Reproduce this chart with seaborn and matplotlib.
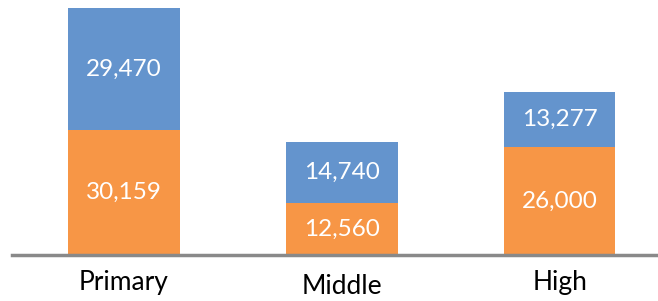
import pandas as pd
import matplotlib
matplotlib.use("Agg")
import matplotlib.pyplot as plt
import seaborn as sns

# data
levels = ["Primary", "Middle", "High"]
bottom_vals = [30159, 12560, 26000]
top_vals = [29470, 14740, 13277]

ORANGE = "#F79646"
BLUE = "#6494CD"

df = pd.DataFrame({"level": levels, "bottom": bottom_vals, "top": top_vals})
df["total"] = df["bottom"] + df["top"]

sns.set_theme(style="white")
plt.rcParams["font.family"] = ["Lato", "DejaVu Sans"]

fig = plt.figure(figsize=(6.58, 3.01), dpi=100)
ax = fig.add_axes([12 / 658, 1 - 255 / 301, 646 / 658, 255 / 301])

sns.barplot(data=df, x="level", y="total", color=BLUE, width=0.51,
            saturation=1, linewidth=0, ax=ax)
sns.barplot(data=df, x="level", y="bottom", color=ORANGE, width=0.51,
            saturation=1, linewidth=0, ax=ax)

for i, row in df.iterrows():
    ax.text(i, row["bottom"] / 2, f"{row['bottom']:,}", ha="center",
            va="center", color="white", fontsize=17.5)
    ax.text(i, row["bottom"] + row["top"] / 2, f"{row['top']:,}",
            ha="center", va="center", color="white", fontsize=17.5)

ax.set_xlim(-0.514, 2.45)
ax.set_ylim(0, 61560)
ax.set_xlabel("")
ax.set_ylabel("")
ax.set_yticks([])
for s in ["top", "right", "left"]:
    ax.spines[s].set_visible(False)
ax.spines["bottom"].set_color("#898989")
ax.spines["bottom"].set_linewidth(2.5)
ax.tick_params(axis="x", length=0, labelsize=19, colors="black", pad=11)
ax.xaxis.get_major_ticks()[1].set_pad(14)

fig.savefig("out.png", dpi=100)
